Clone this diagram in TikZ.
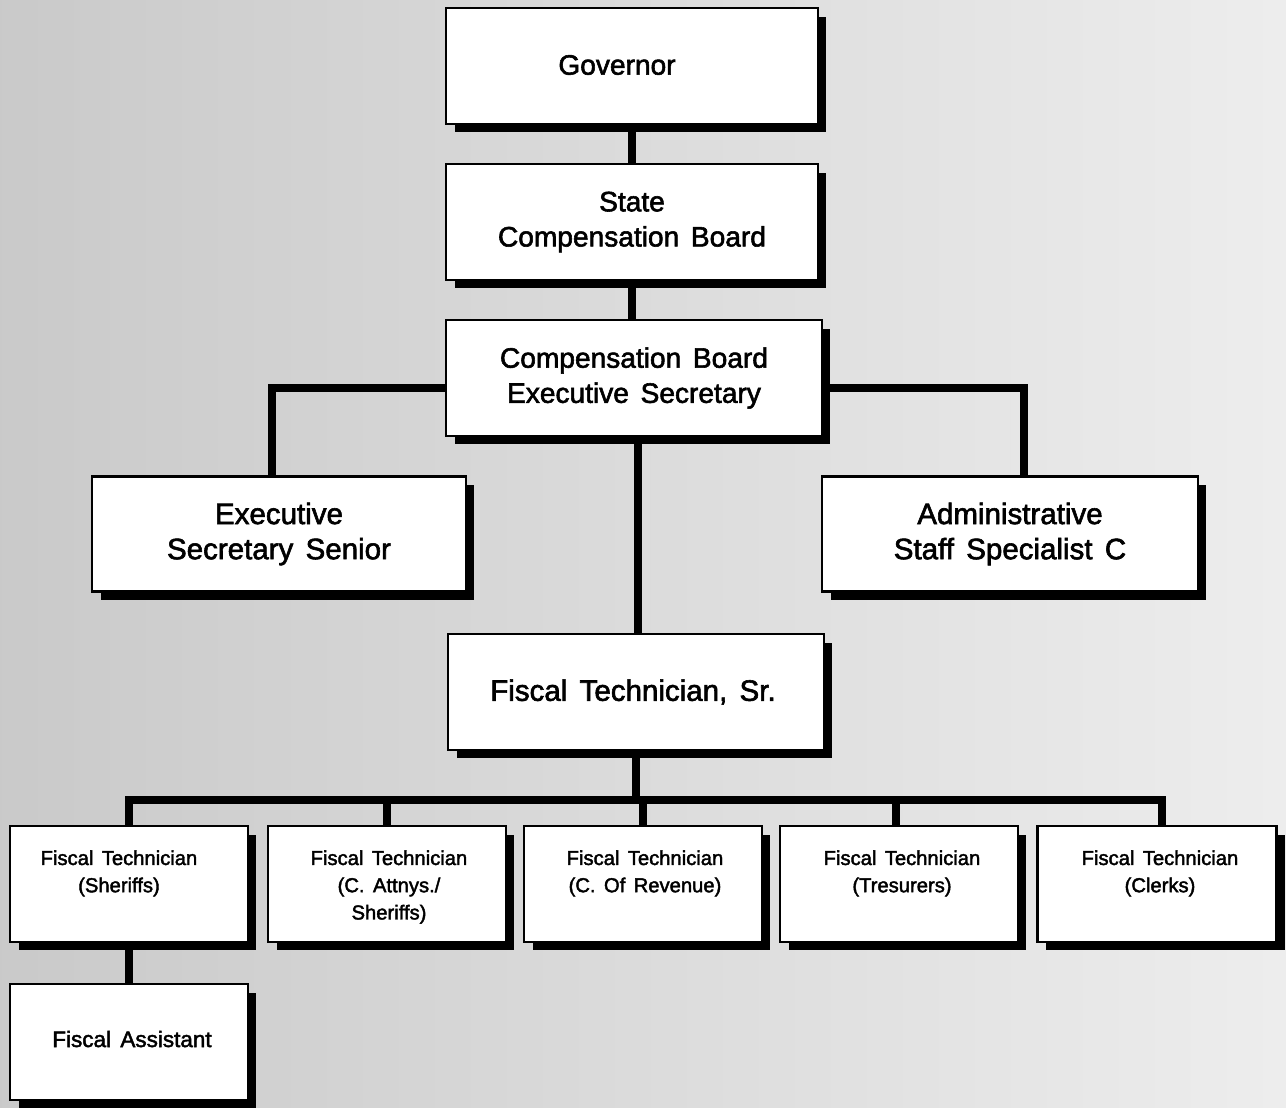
\documentclass[tikz,border=0pt]{standalone}
\usepackage{fontspec}
\setmainfont{Liberation Sans}[WordSpace=1.5,FakeBold=2]
\usetikzlibrary{shadows}
\pgfdeclarelayer{bg}
\pgfdeclarelayer{edges}
\pgfsetlayers{bg,edges,main}
\tikzset{
  box/.style={draw=black, fill=white, line width=1.6pt, align=center,
    drop shadow={shadow xshift=0.17cm, shadow yshift=-0.17cm, fill=black, opacity=1}},
  bigbox/.style={box, minimum width=7.44cm, minimum height=2.32cm, font=\fontsize{16}{20}\selectfont},
  midbox/.style={box, minimum width=7.48cm, minimum height=2.30cm, font=\fontsize{16.8}{20}\selectfont},
  smallbox/.style={box, minimum width=4.76cm, minimum height=2.32cm},
  smalltext/.style={align=center, anchor=north, inner sep=0pt, font=\fontsize{11.5}{15.5}\selectfont},
  conn/.style={line width=4.5pt, line cap=rect, black},
}
\begin{document}
\begin{tikzpicture}[x=0.02cm, y=-0.02cm]
\begin{pgfonlayer}{bg}
  \shade[left color=black!21, right color=black!7] (0,0) rectangle (1286,1108);
\end{pgfonlayer}
\useasboundingbox (0,0) rectangle (1286,1108);

\node[bigbox] (gov) at (632,66) {};
\node[font=\fontsize{16}{20}\selectfont] (govt) at (617,65) {Governor};
\node[bigbox] (scb) at (632,222) {State\\Compensation Board};
\node[bigbox, minimum width=7.52cm] (cbes) at (634,378) {Compensation Board\\Executive Secretary};
\node[midbox] (ess) at (279,534) {Executive\\Secretary Senior};
\node[midbox, minimum width=7.52cm] (ass) at (1010,534) {Administrative\\Staff Specialist C};
\node[midbox, minimum width=7.52cm, minimum height=2.32cm] (fts) at (636,692) {};
\node[font=\fontsize{16.8}{20}\selectfont] (ftst) at (633,692) {Fiscal Technician, Sr.};

\node[smallbox] (s1) at (129,884) {};
\node[smallbox] (s2) at (387,884) {};
\node[smallbox] (s3) at (643,884) {};
\node[smallbox] (s4) at (899,884) {};
\node[smallbox, minimum width=4.78cm] (s5) at (1157,884) {};
\node[smallbox] (fa) at (129,1042) {};

\node[smalltext] (t1) at (119,850) {Fiscal Technician\\(Sheriffs)};
\node[smalltext] (t2) at (389,850) {Fiscal Technician\\(C. Attnys./\\Sheriffs)};
\node[smalltext] (t3) at (645,850) {Fiscal Technician\\(C. Of Revenue)};
\node[smalltext] (t4) at (902,850) {Fiscal Technician\\(Tresurers)};
\node[smalltext] (t5) at (1160,850) {Fiscal Technician\\(Clerks)};
\node[smalltext, anchor=center, font=\fontsize{12.8}{15}\selectfont] (t6) at (132,1039) {Fiscal Assistant};

\coordinate (bus) at (638,800);

\begin{pgfonlayer}{edges}
  \draw[conn] (gov.south) -- (scb.north);
  \draw[conn] (scb.south) -- (scb.south |- cbes.north);
  \draw[conn] ([yshift=-0.2cm]cbes.west) -| ([xshift=-0.14cm]ess.north);
  \draw[conn] ([yshift=-0.2cm]cbes.east) -| ([xshift=0.28cm]ass.north);
  \draw[conn] ([xshift=0.08cm]cbes.south) -- ([xshift=0.04cm]fts.north);
  \draw[conn] (fts.south) -- (fts.south |- bus);
  \draw[conn] (s1.north) -- (s1.north |- bus) -- ([xshift=0.1cm]s5.north |- bus) -- ([xshift=0.1cm]s5.north);
  \draw[conn] (s2.north) -- (s2.north |- bus);
  \draw[conn] (s3.north) -- (s3.north |- bus);
  \draw[conn] ([xshift=-0.06cm]s4.north) -- ([xshift=-0.06cm]s4.north |- bus);
  \draw[conn] (s1.south) -- (fa.north);
\end{pgfonlayer}
\end{tikzpicture}
\end{document}
